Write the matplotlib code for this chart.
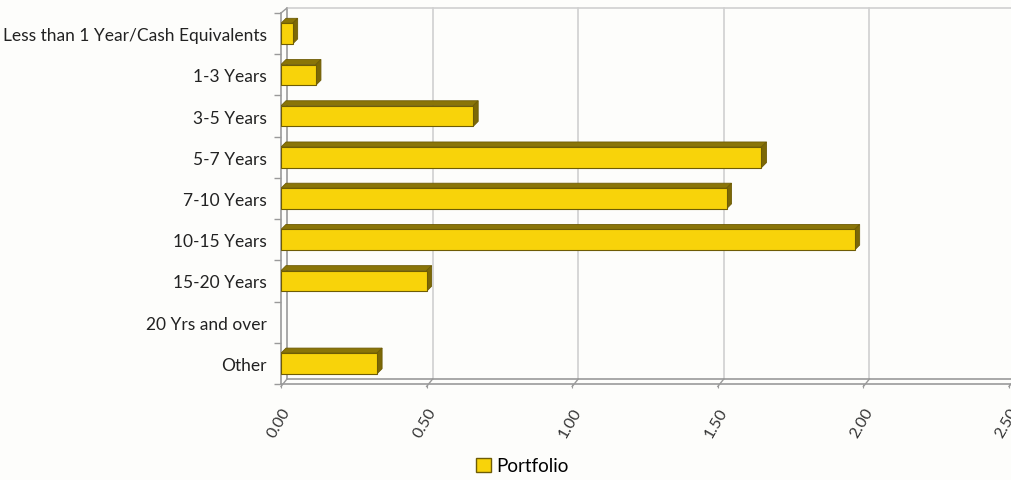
import numpy as np
import matplotlib
matplotlib.use('Agg')
import matplotlib.pyplot as plt
from matplotlib.patches import Polygon, Patch

categories = ['Less than 1 Year/Cash Equivalents', '1-3 Years', '3-5 Years', '5-7 Years',
              '7-10 Years', '10-15 Years', '15-20 Years', '20 Yrs and over', 'Other']
values = [0.04, 0.12, 0.66, 1.65, 1.53, 1.97, 0.50, 0.0, 0.33]
xticks = [0.0, 0.5, 1.0, 1.5, 2.0, 2.5]
xticklabels = ['0.00', '0.50', '1.00', '1.50', '2.00', '2.50']
series = 'Portfolio'

plt.rcParams['font.family'] = ['Lato', 'DejaVu Sans']

W, H = 1011, 481
fig = plt.figure(figsize=(W / 100, H / 100), dpi=100)
fig.patch.set_facecolor('#fdfdfb')

# front plane of the 3d box, in pixels
left, right, top, bottom = 281, 1009, 14, 385
ax = fig.add_axes([left / W, 1 - bottom / H, (right - left) / W, (bottom - top) / H])
ax.set_facecolor('none')
xmax = 2.5
n = len(categories)
ax.set_xlim(0, xmax)
ax.set_ylim(n - 0.5, -0.5)

# pixel -> data conversion for the depth offsets
px_x = xmax / (right - left)
px_y = n / (bottom - top)
wall_dx, wall_dy = 6 * px_x, 5 * px_y
bar_dx, bar_dy = 5 * px_x, 5 * px_y

grid_c = '#d0d0d0'
axis_c = '#9a9a9a'

# back wall grid and frame
for xv in xticks:
    ax.plot([xv + wall_dx, xv + wall_dx], [n - 0.5 - wall_dy, -0.5 - wall_dy],
            color=axis_c if xv == 0 else grid_c, lw=1.2, clip_on=False, zorder=1)
    # floor diagonals
    ax.plot([xv, xv + wall_dx], [n - 0.5 + 2.5 * px_y, n - 0.5 - wall_dy],
            color=axis_c, lw=1.0, clip_on=False, zorder=1)
ax.plot([wall_dx, xmax + wall_dx], [-0.5 - wall_dy] * 2, color=grid_c, lw=1.2, clip_on=False)
ax.plot([wall_dx, xmax + wall_dx], [n - 0.5 - wall_dy] * 2, color=axis_c, lw=1.2, clip_on=False)
ax.plot([0, wall_dx], [-0.5, -0.5 - wall_dy], color=axis_c, lw=1.0, clip_on=False)

# front frame
ax.plot([0, xmax + wall_dx], [n - 0.5, n - 0.5], color=axis_c, lw=1.2, clip_on=False)
ax.plot([0, 0], [n - 0.5, -0.5], color=axis_c, lw=1.2, clip_on=False)

# bars with 3d faces
h = 0.5
front_c = '#f8d30a'
top_c = '#8a7508'
side_c = '#7c6806'
edge_c = '#6e5c05'
y = np.arange(n)
edges = [edge_c if v > 0 else 'none' for v in values]
ax.barh(y, values, height=h, color=front_c, edgecolor=edges, linewidth=0.8, zorder=4)
for yi, v in zip(y, values):
    if v <= 0:
        continue
    y0 = yi - h / 2
    y1 = yi + h / 2
    topface = Polygon([[0, y0], [v, y0], [v + bar_dx, y0 - bar_dy], [bar_dx, y0 - bar_dy]],
                      closed=True, facecolor=top_c, edgecolor=edge_c, lw=0.6, zorder=3)
    side = Polygon([[v, y0], [v + bar_dx, y0 - bar_dy], [v + bar_dx, y1 - bar_dy], [v, y1]],
                   closed=True, facecolor=side_c, edgecolor=edge_c, lw=0.6, zorder=3)
    ax.add_patch(topface)
    ax.add_patch(side)

for s in ax.spines.values():
    s.set_visible(False)

ax.set_yticks(y)
ax.set_yticklabels(categories, fontsize=12.5, color='#222222')
ax.set_yticks(np.arange(n + 1) - 0.5, minor=True)
ax.tick_params(axis='y', which='major', length=0, pad=10)
ax.tick_params(axis='y', which='minor', length=5, color=axis_c, width=1.0)

ax.set_xticks(xticks)
ax.set_xticklabels(xticklabels, fontsize=11.5, color='#333333', rotation=60,
                   ha='right', va='top', rotation_mode='anchor')
ax.tick_params(axis='x', length=3, color=axis_c, pad=12)

fig.legend(handles=[Patch(facecolor=front_c, edgecolor=edge_c, label=series)],
           loc='center', bbox_to_anchor=(522 / W, 1 - 467 / H), frameon=False,
           fontsize=13.5, handlelength=0.8, handleheight=0.8, handletextpad=0.3)

fig.savefig('out.png', dpi=100, facecolor=fig.get_facecolor())
